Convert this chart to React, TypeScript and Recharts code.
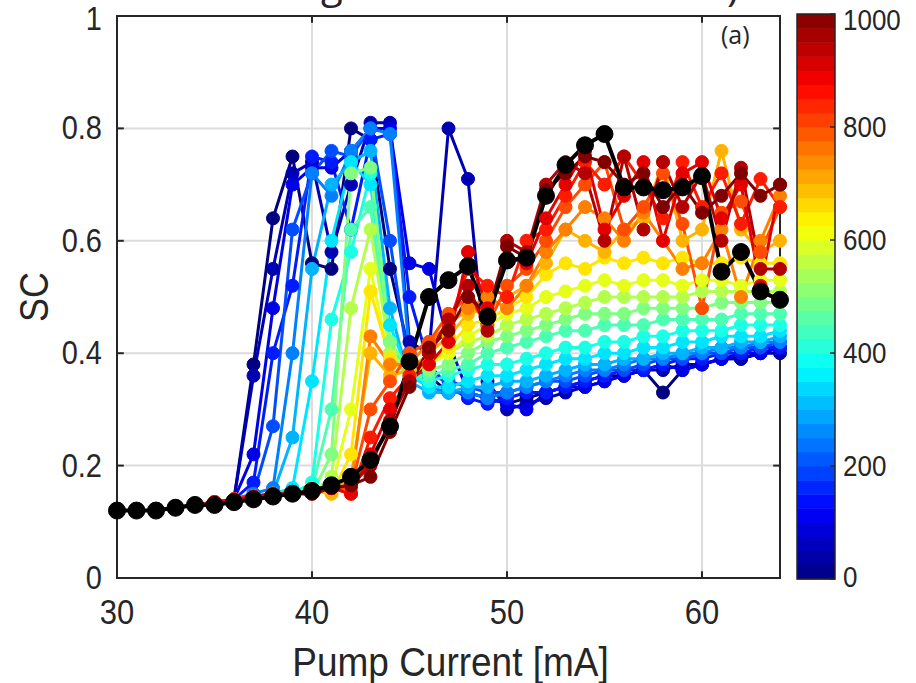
import React from 'react';
import { LineChart, Line, XAxis, YAxis, CartesianGrid, ReferenceArea, ReferenceLine, Label } from 'recharts';

// pump current [mA], one point per mA
const current = [30, 31, 32, 33, 34, 35, 36, 37, 38, 39, 40, 41, 42, 43, 44, 45, 46, 47, 48, 49, 50, 51, 52, 53, 54, 55, 56, 57, 58, 59, 60, 61, 62, 63, 64];

// SC curves, one per colour-bar level
const sc0 = [.12, .12, .12, .125, .13, .135, .14, .38, .64, .75, .56, .55, .80, .78, .55, .40, .36, .33, .33, .32, .31, .32, .33, .34, .35, .36, .36, .37, .33, .37, .38, .39, .39, .40, .41];
const sc50 = [.12, .12, .12, .125, .13, .135, .14, .36, .55, .72, .74, .58, .70, .81, .81, .42, .40, .80, .71, .35, .30, .31, .32, .33, .34, .35, .36, .37, .37, .38, .38, .39, .39, .40, .40];
const sc100 = [.12, .12, .12, .125, .13, .135, .14, .22, .48, .70, .73, .73, .76, .80, .80, .56, .55, .42, .33, .32, .31, .30, .33, .34, .34, .35, .36, .37, .38, .37, .38, .39, .40, .40, .41];
const sc150 = [.12, .12, .12, .125, .13, .135, .14, .17, .40, .52, .75, .74, .62, .78, .79, .50, .38, .34, .32, .31, .32, .33, .33, .34, .35, .36, .37, .37, .38, .39, .39, .40, .40, .41, .41];
const sc200 = [.12, .12, .12, .125, .13, .135, .14, .15, .27, .62, .72, .76, .75, .80, .60, .37, .36, .35, .34, .33, .33, .34, .35, .35, .36, .37, .37, .38, .39, .39, .40, .40, .41, .41, .42];
const sc250 = [.12, .12, .12, .125, .13, .135, .14, .15, .16, .40, .72, .68, .76, .80, .79, .40, .34, .33, .33, .32, .33, .34, .35, .36, .37, .37, .38, .39, .39, .40, .40, .41, .41, .42, .42];
const sc300 = [.12, .12, .12, .125, .13, .135, .14, .145, .15, .25, .55, .70, .74, .76, .48, .35, .33, .33, .34, .34, .35, .35, .36, .37, .38, .38, .39, .39, .40, .40, .41, .41, .42, .42, .43];
const sc350 = [.12, .12, .12, .125, .13, .135, .14, .145, .15, .16, .35, .60, .74, .70, .45, .36, .34, .34, .35, .36, .36, .37, .38, .39, .39, .40, .40, .41, .41, .42, .42, .43, .43, .43, .44];
const sc400 = [.12, .12, .12, .125, .13, .135, .14, .145, .15, .15, .17, .46, .58, .72, .42, .36, .35, .36, .37, .38, .38, .39, .40, .41, .41, .42, .42, .43, .43, .44, .44, .44, .45, .45, .45];
const sc450 = [.12, .12, .12, .125, .13, .135, .14, .145, .15, .15, .16, .30, .62, .66, .40, .36, .36, .37, .38, .40, .41, .42, .43, .44, .44, .45, .45, .45, .46, .46, .46, .46, .47, .47, .47];
const sc500 = [.12, .12, .12, .125, .13, .135, .14, .145, .15, .15, .15, .22, .72, .73, .42, .37, .37, .38, .40, .42, .43, .44, .45, .46, .47, .47, .47, .48, .48, .48, .48, .49, .49, .49, .49];
const sc550 = [.12, .12, .12, .125, .13, .135, .14, .145, .15, .15, .15, .18, .48, .62, .40, .37, .38, .40, .42, .43, .45, .46, .47, .48, .49, .50, .50, .50, .50, .50, .51, .51, .51, .51, .51];
const sc600 = [.12, .12, .12, .125, .13, .135, .14, .145, .15, .15, .155, .16, .30, .55, .38, .37, .38, .40, .43, .45, .47, .48, .50, .51, .52, .53, .52, .53, .53, .52, .53, .53, .52, .53, .53];
const sc650 = [.12, .12, .12, .125, .13, .135, .14, .145, .15, .15, .155, .15, .22, .51, .39, .36, .38, .41, .45, .46, .48, .50, .54, .56, .55, .57, .56, .57, .56, .57, .56, .56, .57, .56, .56];
const sc700 = [.12, .12, .12, .125, .13, .135, .14, .145, .15, .15, .155, .15, .18, .40, .36, .37, .40, .43, .47, .48, .50, .52, .56, .62, .60, .58, .62, .64, .74, .60, .62, .76, .62, .58, .60];
const sc750 = [.12, .12, .12, .125, .13, .135, .14, .145, .15, .15, .155, .16, .16, .43, .38, .38, .42, .45, .48, .50, .48, .52, .58, .62, .66, .64, .60, .65, .60, .55, .56, .62, .50, .60, .68];
const sc800 = [.12, .12, .12, .125, .13, .135, .14, .145, .15, .15, .155, .16, .16, .30, .35, .40, .42, .47, .50, .45, .52, .55, .60, .66, .70, .74, .62, .66, .72, .63, .48, .65, .67, .58, .66];
const sc850 = [.12, .12, .12, .125, .13, .135, .14, .145, .15, .15, .155, .16, .15, .25, .32, .36, .40, .45, .55, .52, .50, .60, .62, .68, .74, .70, .75, .70, .64, .74, .66, .72, .63, .71, .66];
const sc900 = [.12, .12, .12, .125, .13, .135, .14, .145, .15, .15, .155, .16, .15, .22, .30, .35, .38, .42, .58, .48, .57, .56, .64, .70, .76, .62, .68, .74, .60, .72, .74, .64, .70, .52, .70];
const sc950 = [.12, .12, .12, .125, .13, .13, .135, .14, .145, .15, .15, .16, .165, .20, .28, .35, .40, .46, .52, .44, .60, .58, .70, .74, .72, .60, .75, .62, .74, .66, .72, .60, .73, .55, .55];
const sc1000 = [.12, .12, .12, .125, .13, .13, .135, .14, .145, .15, .15, .16, .165, .18, .26, .34, .41, .44, .50, .47, .59, .57, .69, .72, .75, .74, .70, .72, .66, .70, .65, .68, .72, .68, .70];

// highlighted curve (black)
const scBlack = [.12, .12, .12, .125, .13, .13, .135, .14, .145, .15, .155, .165, .18, .21, .27, .385, .50, .53, .555, .465, .565, .57, .68, .735, .77, .79, .695, .695, .69, .695, .715, .545, .58, .51, .495];

const levels = [0, 50, 100, 150, 200, 250, 300, 350, 400, 450, 500, 550, 600, 650, 700, 750, 800, 850, 900, 950, 1000];
const curves = [sc0, sc50, sc100, sc150, sc200, sc250, sc300, sc350, sc400, sc450, sc500, sc550, sc600, sc650, sc700, sc750, sc800, sc850, sc900, sc950, sc1000];

const xTicks = [30, 40, 50, 60];
const yTicks = [0, 0.2, 0.4, 0.6, 0.8, 1];
const barTicks = [0, 200, 400, 600, 800, 1000];
const barMax = 1000;

// matlab-ish jet colormap
const jet = (v: number) => {
  const c = (t: number) => Math.round(255 * Math.max(0, Math.min(1, 1.5 - Math.abs(4 * v - t))));
  return `rgb(${c(3)},${c(2)},${c(1)})`;
};

const TXT = '#262626';
const FONT = '"Liberation Sans", Arial, sans-serif';
const STRETCH = 1.12;

const XTick = (props: any) => {
  const { x, y, payload } = props;
  return (
    <text transform={`translate(${x},${y + 34}) scale(1,${STRETCH})`} textAnchor="middle" dominantBaseline="central" fontSize={31} fill={TXT} fontFamily={FONT}>
      {payload.value}
    </text>
  );
};

const YTick = (props: any) => {
  const { x, y, payload } = props;
  // top label sits right at the page edge, nudge it down a touch
  const yy = payload.value === 1 ? y + 3 : y;
  return (
    <text transform={`translate(${x - 15},${yy}) scale(1,${STRETCH})`} textAnchor="end" dominantBaseline="central" fontSize={29} fill={TXT} fontFamily={FONT}>
      {payload.value}
    </text>
  );
};

const XLabel = (props: any) => {
  const vb = props.viewBox;
  return (
    <text transform={`translate(${vb.x + vb.width / 2 + 2},${vb.y + 83}) scale(1,${STRETCH})`} textAnchor="middle" dominantBaseline="central" fontSize={37} fill={TXT} fontFamily={FONT}>
      Pump Current [mA]
    </text>
  );
};

const YLabel = (props: any) => {
  const vb = props.viewBox;
  return (
    <text transform={`translate(${vb.x - 23},${vb.y + vb.height / 2}) rotate(-90) scale(1,${STRETCH})`} textAnchor="middle" dominantBaseline="central" fontSize={36} fill={TXT} fontFamily={FONT}>
      SC
    </text>
  );
};

export default function App() {
  const rows = current.map((x, i) => {
    const row: Record<string, number> = { x, black: scBlack[i] };
    curves.forEach((c, k) => {
      row[`p${levels[k]}`] = c[i];
    });
    return row;
  });

  const barTop = 14;
  const barH = 565;
  const nBands = 40;

  return (
    <div style={{ position: 'absolute', left: 0, top: 0, width: 916, height: 683, background: '#fff', overflow: 'hidden' }}>
      <LineChart width={916} height={683} data={rows} margin={{ top: 16, right: 136, bottom: 45, left: 57 }}>
        <CartesianGrid stroke="#dcdcdc" strokeWidth={2} />
        <XAxis dataKey="x" type="number" domain={[30, 64]} ticks={xTicks} interval={0} height={60}
          axisLine={false} tickLine={false} tickSize={0} tickMargin={0} tick={<XTick />}>
          <Label content={<XLabel />} />
        </XAxis>
        <YAxis type="number" domain={[0, 1]} ticks={yTicks} interval={0} width={60}
          axisLine={false} tickLine={false} tickSize={0} tickMargin={0} tick={<YTick />}>
          <Label content={<YLabel />} />
        </YAxis>
        {levels.map((lv) => {
          const col = jet(lv / barMax);
          return (
            <Line key={lv} type="linear" dataKey={`p${lv}`} stroke={col} strokeWidth={3}
              dot={{ r: 6.5, fill: col, stroke: col, strokeWidth: 1 }} activeDot={false} isAnimationActive={false} />
          );
        })}
        <Line type="linear" dataKey="black" stroke="#000" strokeWidth={4}
          dot={{ r: 8.5, fill: '#000', stroke: '#000', strokeWidth: 1 }} activeDot={false} isAnimationActive={false} />
        <ReferenceArea x1={30} x2={64} y1={0} y2={1} fill="none" fillOpacity={0} stroke={TXT} strokeWidth={2} ifOverflow="visible" />
        {xTicks.slice(1).map((t) => (
          <ReferenceLine key={`b${t}`} segment={[{ x: t, y: 0 }, { x: t, y: 0.012 }]} stroke={TXT} strokeWidth={2} />
        ))}
        {xTicks.slice(1).map((t) => (
          <ReferenceLine key={`t${t}`} segment={[{ x: t, y: 1 }, { x: t, y: 0.988 }]} stroke={TXT} strokeWidth={2} />
        ))}
        {yTicks.slice(1, -1).map((t) => (
          <ReferenceLine key={`l${t}`} segment={[{ x: 30, y: t }, { x: 30.35, y: t }]} stroke={TXT} strokeWidth={2} />
        ))}
        {yTicks.slice(1, -1).map((t) => (
          <ReferenceLine key={`r${t}`} segment={[{ x: 64, y: t }, { x: 63.65, y: t }]} stroke={TXT} strokeWidth={2} />
        ))}
      </LineChart>

      <svg width={916} height={683} style={{ position: 'absolute', left: 0, top: 0, pointerEvents: 'none' }}>
        {/* title, cut off by the top edge as in the source figure */}
        <text x={321} y={-2} fontSize={40} fill={TXT} fontFamily='"Open Sans", sans-serif'>g</text>
        <text x={727} y={1} fontSize={40} fill={TXT} fontFamily='"Open Sans", sans-serif'>)</text>
        <text x={721} y={44} fontSize={25} fill={TXT} fontFamily='"Open Sans", sans-serif'>(a)</text>

        {/* colour bar */}
        {Array.from({ length: nBands }, (_, k) => (
          <rect key={k} x={797} y={barTop + barH - (k + 1) * (barH / nBands)} width={38} height={barH / nBands + 0.5}
            fill={jet((k + 0.5) / nBands)} />
        ))}
        <rect x={797} y={barTop} width={38} height={barH} fill="none" stroke={TXT} strokeWidth={1.5} />
        {barTicks.map((t) => {
          const yy = barTop + barH * (1 - t / barMax);
          return (
            <g key={t}>
              <line x1={835} x2={830} y1={yy} y2={yy} stroke={TXT} strokeWidth={1.5} />
              <text transform={`translate(843,${yy + (t === barMax ? 6 : t === 0 ? -2 : 0)}) scale(1,${STRETCH})`}
                dominantBaseline="central" fontSize={26} fill={TXT} fontFamily={FONT}>
                {t}
              </text>
            </g>
          );
        })}
      </svg>
    </div>
  );
}
